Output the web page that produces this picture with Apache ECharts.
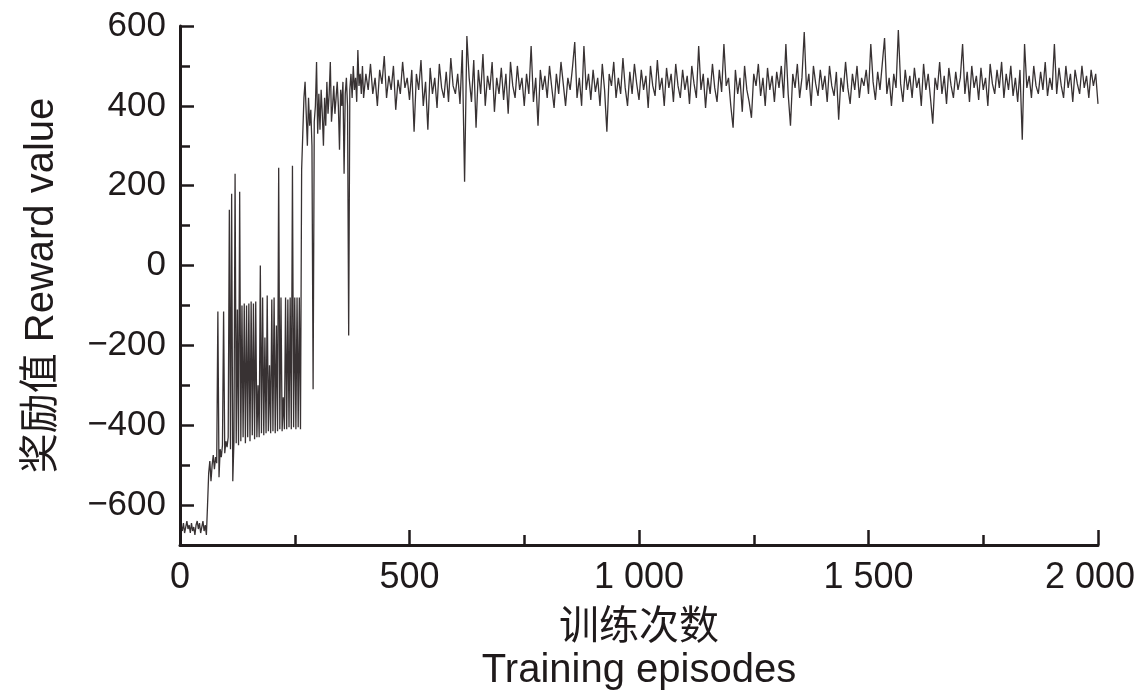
<!DOCTYPE html>
<html>
<head>
<meta charset="utf-8">
<title>Reward value</title>
<script src="https://cdn.jsdelivr.net/npm/echarts@6.0.0/dist/echarts.min.js"></script>
<style>
  html, body { margin: 0; padding: 0; background: #fff; }
  #chart { width: 1134px; height: 699px; }
</style>
</head>
<body>
<div id="chart"></div>
<script>
// 前 400 回合每 2.5 回合读一个点，之后每 5 回合读一个点
var earlyStep = 2.5;
var laterStart = 400;
var laterStep = 5;

// 回合 0 - 397.5
var rewardEarly = [
  -660, -650, -665, -645, -670, -655, -640, -660, -650, -670, -645, -665,
  -655, -675, -650, -640, -660, -645, -670, -655, -640, -665, -650, -675,
  -600, -520, -490, -540, -500, -475, -510, -480, -495, -115, -530, -460, -480, -450, -115, -470, -440, -455, -430, 140, -460,
  180, -540, -440, 230, -445, -110, -450, 185, -440, -100, -430, -95, -445, -100, -430, -95, -440, -90, -425, -95,
  -435, -90, -430, -300, -430, 0, -420, -80, -425, -180, -420, -75, -415, -250, -420, -85, -415, -80, -420, -150,
  -415, 245, -410, -80, -415, -330, -410, -80, -410, -85, -405, -80, -410, 250, -405, -80, -410, -80, -405, -80,
  -410, 240, 330, 420, 460, 380, 300, 420, 350, 390, 300, -310, 360, 400, 510, 330, 430, 340, 440, 380,
  300, 420, 350, 460, 380, 430, 510, 360, 400, 450, 380, 420, 460, 400, 290, 440, 400, 460, 230, 430,
  470, 400, -175, 440, 480, 420, 500, 440, 470, 410, 540, 450, 480, 430, 500
];

// 回合 400 - 1195
var rewardMid = [
  420, 480, 440, 505, 430, 470, 400, 490, 455, 525, 420, 475, 440, 500, 390, 465, 430, 510, 445, 470,
  415, 490, 335, 480, 440, 515, 400, 460, 340, 495, 430, 470, 395, 505, 445, 420, 485, 410, 520, 450,
  430, 480, 405, 540, 210, 575, 470, 410, 515, 345, 490, 430, 530, 400, 475, 440, 510, 385, 470, 430,
  495, 415, 480, 380, 510, 450, 420, 500, 440, 470, 400, 480, 430, 550, 410, 470, 350, 490, 440, 475,
  420, 500, 445, 395, 480, 430, 510, 455, 400, 470, 440, 495, 560, 420, 470, 400, 550, 440, 480, 415,
  490, 435, 470, 400, 505, 440, 335, 480, 450, 510, 420, 470, 430, 520, 445, 400, 485, 430, 505, 455,
  415, 490, 440, 475, 395, 500, 450, 425, 515, 440, 470, 400, 495, 445, 480, 410, 505, 450, 420, 490,
  440, 475, 405, 500, 455, 420, 550, 440, 480, 395, 470, 430, 505, 445, 410, 490, 435, 555, 450, 470
];

// 回合 1200 - 2000
var rewardLate = [
  400, 345, 490, 430, 470, 385, 500, 440, 410, 370, 480, 450, 505, 425, 470, 400, 495, 440, 475, 410,
  485, 445, 500, 420, 555, 430, 350, 480, 445, 505, 420, 470, 585, 440, 480, 400, 500, 455, 425, 490,
  440, 475, 410, 500, 450, 425, 485, 365, 470, 435, 510, 445, 405, 480, 440, 500, 420, 470, 450, 490,
  430, 555, 460, 415, 485, 440, 505, 570, 430, 470, 400, 480, 445, 590, 455, 410, 490, 440, 475, 420,
  495, 445, 470, 400, 505, 440, 480, 420, 355, 470, 440, 510, 430, 475, 405, 495, 450, 420, 485, 440,
  470, 555, 430, 485, 410, 500, 445, 475, 415, 495, 440, 470, 400, 505, 455, 430, 490, 445, 510, 420,
  480, 440, 500, 425, 470, 410, 490, 315, 555, 445, 475, 420, 500, 450, 430, 485, 440, 510, 425, 470,
  440, 555, 430, 495, 450, 420, 500, 445, 480, 410, 490, 455, 430, 500, 445, 475, 420, 490, 450, 480,
  405
];

var yTickLabels = [-600, -400, -200, 0, 200, 400, 600];
var xTickLabels = [0, 500, 1000, 1500, 2000];

(function(){
    var ink = '#1f1a1b';
    var font = '"Liberation Sans", Arial, "Noto Sans CJK SC", sans-serif';
    var xMax = xTickLabels[xTickLabels.length - 1];

    var seriesData = rewardEarly.map(function (v, i) { return [i * earlyStep, v]; });
    rewardMid.concat(rewardLate).forEach(function (v, i) {
        seriesData.push([laterStart + i * laterStep, v]);
    });

    var myChart = echarts.init(document.getElementById('chart'));
    var option = {
        animation: false,
        backgroundColor: '#fff',
        textStyle: { fontFamily: font, color: ink },
        grid: { left: 180, right: 36, top: 26, bottom: 154, containLabel: false, outerBoundsMode: 'none' },
        xAxis: {
            type: 'value',
            min: xTickLabels[0],
            max: xMax,
            interval: 500,
            name: '训练次数\nTraining episodes',
            nameLocation: 'middle',
            nameGap: 61,
            nameTextStyle: { fontSize: 40, color: ink, lineHeight: 43, fontFamily: font },
            axisLine: { onZero: false, lineStyle: { color: ink, width: 3 } },
            axisTick: { inside: true, length: 15, lineStyle: { color: ink, width: 2.5 } },
            minorTick: { show: true, splitNumber: 2, length: 10, lineStyle: { color: ink, width: 2.5 } },
            splitLine: { show: false },
            axisLabel: {
                fontSize: 36, color: ink, margin: 15, fontFamily: font,
                formatter: function (v) {
                    var s = String(v).replace(/\B(?=(\d{3})+$)/g, ' ');
                    return v === xMax ? '{last|' + s + '}' : s;   // 最右标签往左挪一点，别出画面
                },
                rich: {
                    last: { fontSize: 36, color: ink, fontFamily: font, padding: [0, 16, 0, 0] }
                }
            }
        },
        yAxis: [
            {
                type: 'value',
                min: -700,
                max: 600,
                interval: 100,
                name: '奖励值 Reward value',
                nameLocation: 'middle',
                nameRotate: 90,
                nameGap: 118,
                nameTextStyle: { fontSize: 40, color: ink, fontFamily: font },
                axisLine: { lineStyle: { color: ink, width: 3 } },
                axisTick: { show: true, inside: true, length: 14, customValues: yTickLabels, lineStyle: { color: ink, width: 2.5 } },
                splitLine: { show: false },
                axisLabel: {
                    fontSize: 35, color: ink, margin: 14, fontFamily: font, customValues: yTickLabels,
                    formatter: function (v) { return String(v).replace('-', '\u2212'); }
                }
            },
            {   // 短刻度
                type: 'value',
                min: -700,
                max: 600,
                interval: 100,
                position: 'left',
                axisLine: { show: false },
                axisTick: { show: true, inside: true, length: 10, lineStyle: { color: ink, width: 2.5 } },
                axisLabel: { show: false },
                splitLine: { show: false }
            }
        ],
        series: [
            {
                type: 'line',
                data: seriesData,
                showSymbol: false,
                symbol: 'none',
                lineStyle: { color: '#221c1d', width: 1.3, opacity: 0.9 }
            }
        ]
    };
    myChart.setOption(option);
})();
</script>
</body>
</html>
